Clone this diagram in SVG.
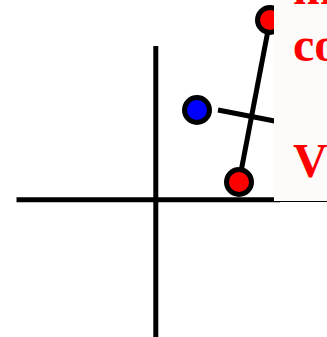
<svg xmlns="http://www.w3.org/2000/svg" width="327" height="337" viewBox="0 0 327 337">
<style>
.ax{stroke:#000;stroke-width:5;fill:none}
.ln{stroke:#000;stroke-width:5;fill:none}
.pt{stroke:#000;stroke-width:5}
.lbl{font-family:"Liberation Serif","Times New Roman",serif;font-weight:bold;font-size:48px;fill:#ff0000}
</style>
<rect width="327" height="337" fill="#ffffff"/>
<g id="connectors">
<line class="ax" x1="16.5" y1="199.8" x2="280" y2="199.8"/>
<line class="ax" x1="155.8" y1="46" x2="155.8" y2="337"/>
<line class="ln" x1="239" y1="182" x2="270" y2="20"/>
<line class="ln" x1="218" y1="110" x2="290" y2="124"/>
</g>
<g id="p1"><circle class="pt" cx="270" cy="20" r="12.5" fill="#ff0000"/></g>
<g id="p2"><circle class="pt" cx="239" cy="182" r="12.5" fill="#ff0000"/></g>
<g id="p3"><circle class="pt" cx="197" cy="110" r="12.5" fill="#0000ff"/></g>
<g id="label">
<rect x="274" y="-2" width="60" height="203" fill="#fcfbfa"/>
<line x1="274" y1="201.5" x2="327" y2="201.5" stroke="#000" stroke-width="1.2"/>
<text class="lbl" x="293" y="3.5">m</text>
<text class="lbl" x="293" y="61">co</text>
<text class="lbl" x="293" y="177">V</text>
</g>
</svg>
